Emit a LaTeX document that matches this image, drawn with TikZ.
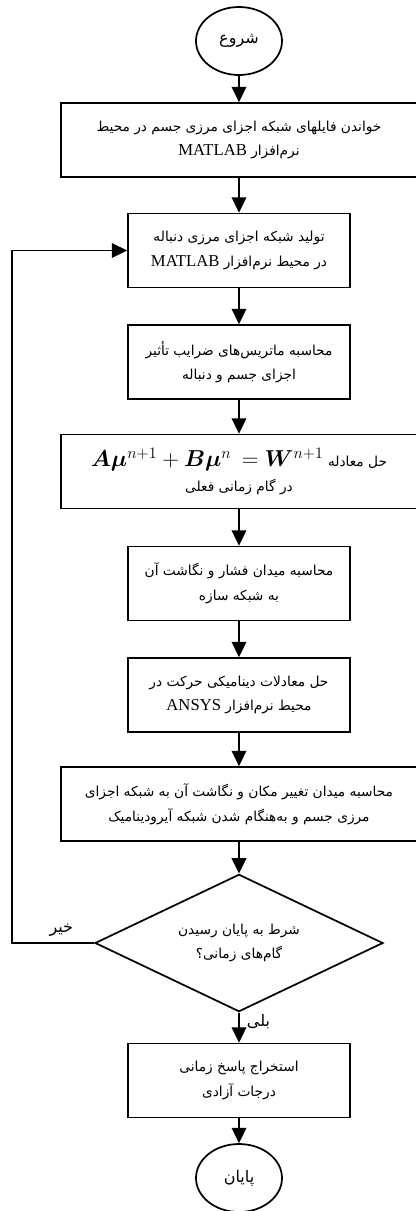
\documentclass[tikz,border=0pt]{standalone}
\usepackage{fontspec}
\usepackage{amsmath,bm}
\setmainfont{Liberation Serif}
\newfontfamily\farsi[Script=Arabic]{DejaVu Sans}
\TeXXeTstate=1
\usetikzlibrary{arrows.meta,shapes.geometric}
\newcommand{\fa}[1]{{\farsi\beginR #1\endR}}
\newcommand{\lat}[1]{{\rmfamily\fontsize{12.5}{14}\selectfont\beginL #1\endL}}
\tikzset{flow/.style={-{Triangle[length=11.5pt,width=11pt]},line width=1.3pt},
         box/.style={draw,line width=1.3pt,align=center,minimum height=55.5pt,
           inner sep=2pt,font=\fontsize{10.3}{18.5}\selectfont},
         wide/.style={box,minimum width=267pt},
         narrow/.style={box,minimum width=166.5pt},
         term/.style={draw,ellipse,line width=1.3pt,minimum width=64.5pt,
           minimum height=51pt,inner sep=0pt,font=\fontsize{12}{14}\selectfont},
         cond/.style={draw,diamond,aspect=2.1,line width=1.3pt,minimum width=216pt,
           minimum height=103pt,inner sep=0pt,align=center,
           font=\fontsize{10.3}{18.5}\selectfont},
         lbl/.style={font=\fontsize{12}{14}\selectfont}}

\begin{document}
\begin{tikzpicture}[x=.75pt,y=-.75pt]
  \useasboundingbox (0,0) rectangle (415,1211);
  \node[term] (st) at (239,41) {\fa{شروع}};
  \node[wide] (b1) at (239,140) {\fa{خواندن فایلهای شبکه اجزای مرزی جسم در محیط}\\
    \fa{نرم‌افزار \lat{MATLAB}}};
  \node[narrow] (b2) at (239,250.5) {\fa{تولید شبکه اجزای مرزی دنباله}\\
    \fa{در محیط نرم‌افزار \lat{MATLAB}}};
  \node[narrow] (b3) at (239,362) {\fa{محاسبه ماتریس‌های ضرایب تأثیر}\\
    \fa{اجزای جسم و دنباله}};
  \node[wide] (b4) at (239,471.5) {\fa{حل معادله \hbox{\fontsize{16.5}{18}\selectfont
    $\bm{A}\bm{\mu}^{n+1}+\bm{B}\bm{\mu}^{n}\,=\bm{W}^{n+1}$}}\\
    \fa{در گام زمانی فعلی}};
  \node[narrow] (b5) at (239,583.5) {\fa{محاسبه میدان فشار و نگاشت آن}\\
    \fa{به شبکه سازه}};
  \node[narrow] (b6) at (239,695) {\fa{حل معادلات دینامیکی حرکت در}\\
    \fa{محیط نرم‌افزار \lat{ANSYS}}};
  \node[wide] (b7) at (239,804) {\fa{محاسبه میدان تغییر مکان و نگاشت آن به شبکه اجزای}\\
    \fa{مرزی جسم و به‌هنگام شدن شبکه آیرودینامیک}};
  \node[cond] (dec) at (239,943) {\fa{شرط به پایان رسیدن}\\ \fa{گام‌های زمانی؟}};
  \node[narrow] (b8) at (239,1080.5) {\fa{استخراج پاسخ زمانی}\\ \fa{درجات آزادی}};
  \node[term] (en) at (239,1178) {\fa{پایان}};
  \coordinate (lp) at (12,943);
  \draw[flow] (st) -- (b1);
  \draw[flow] (b1) -- (b2);
  \draw[flow] (b2) -- (b3);
  \draw[flow] (b3) -- (b4);
  \draw[flow] (b4) -- (b5);
  \draw[flow] (b5) -- (b6);
  \draw[flow] (b6) -- (b7);
  \draw[flow] (b7) -- (dec);
  \draw[flow] (dec) -- (b8) node[lbl,pos=.3,right=2pt] {\fa{بلی}};
  \draw[flow] (b8) -- (en);
  \draw[flow] (dec.west) -- (lp) node[lbl,pos=.4,above=1pt] {\fa{خیر}} |- (b2.west);
\end{tikzpicture}
\end{document}
